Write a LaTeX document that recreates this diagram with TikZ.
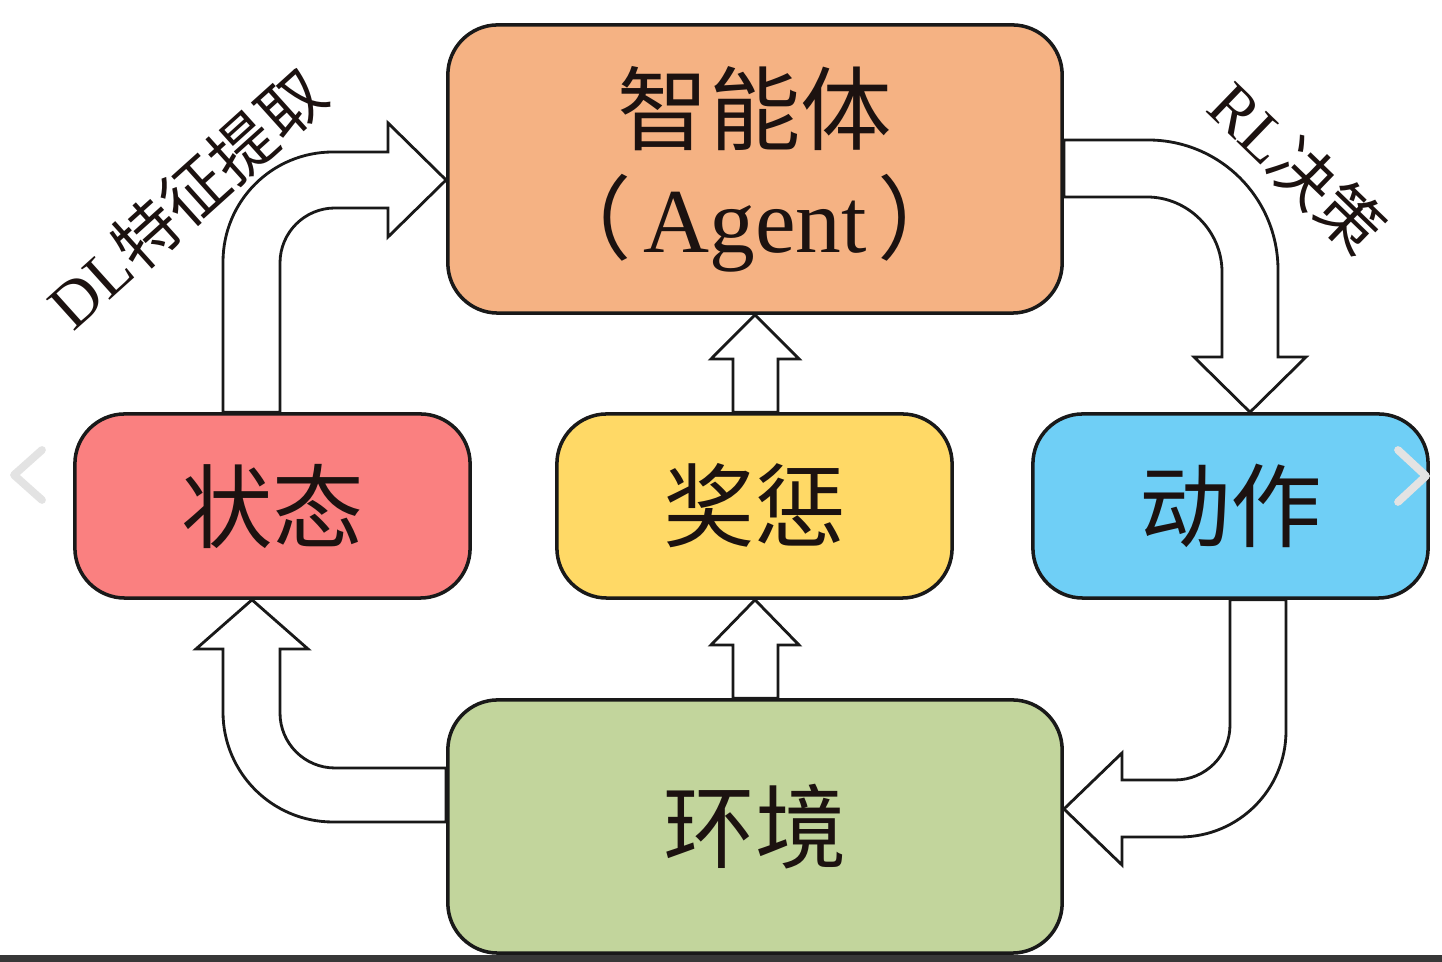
\documentclass[tikz,border=0pt]{standalone}
\usepackage{fontspec}
\setmainfont{Liberation Serif}
\newfontfamily\cjk{Noto Sans CJK SC}
\usetikzlibrary{calc}
\pgfdeclarelayer{backdrop}
\pgfdeclarelayer{bg}
\pgfsetlayers{backdrop,bg,main}
\definecolor{cAg}{HTML}{F5B283}
\definecolor{cSt}{HTML}{FA8080}
\definecolor{cJc}{HTML}{FFD966}
\definecolor{cDz}{HTML}{6FCFF6}
\definecolor{cHj}{HTML}{C2D59C}
\definecolor{txt}{HTML}{1C1210}
\begin{document}
\begin{tikzpicture}[x=0.01cm,y=-0.01cm,
  box/.style={draw=black!90, line width=1pt, rounded corners=0.5cm, inner sep=0pt,
    font=\cjk\fontsize{26}{31}\selectfont, text=txt, align=center},
  blk/.style={draw=black!90, fill=white, line width=0.8pt, line join=miter},
  side/.style={font=\fontsize{18.5}{20}\selectfont, text=txt, inner sep=0pt},
  chev/.style={draw=gray!22, line width=2.2pt, line cap=round, line join=round}]
\begin{pgfonlayer}{backdrop}
\fill[white] (0,0) rectangle (1442,962);
\end{pgfonlayer}
\useasboundingbox (0,0) rectangle (1442,962);

% boxes
\node[box, fill=cAg, minimum width=6.14cm, minimum height=2.88cm] (ag) at (755,169)
  {智能体\\（\hspace{0.12em}{\rmfamily Agent}\hspace{0.12em}）};
\node[box, fill=cSt, minimum width=3.95cm, minimum height=1.84cm] (st) at (272.5,506) {状态};
\node[box, fill=cJc, minimum width=3.95cm, minimum height=1.84cm] (jc) at (754.5,506) {奖惩};
\node[box, fill=cDz, minimum width=3.95cm, minimum height=1.84cm] (dz) at (1230.5,506) {动作};
\node[box, fill=cHj, minimum width=6.14cm, minimum height=2.53cm] (hj) at (755,826.5) {环境};

% side labels
\node[side, rotate=42] (dl) at (186,198) {DL{\cjk 特征提取}};
\node[side, rotate=-44] (rl) at (1298,167) {RL{\cjk 决策}};

\begin{pgfonlayer}{bg}
% DL: state -> agent
\draw[blk] (223,0 |- st.north) -- (223,262) .. controls (223,201) and (272,152) .. (333,152)
  -- (388,152) -- (388,123) -- (ag.west |- 0,180) -- (388,237) -- (388,208) -- (335,208)
  .. controls (304.6,208) and (280,232.6) .. (280,263) -- (280,0 |- st.north) -- cycle;
% RL: agent -> action
\draw[blk] (ag.east |- 0,140) -- (1148,140) .. controls (1220,140) and (1278,198) .. (1278,270)
  -- (1278,357) -- (1306,357) -- (1250,0 |- dz.north) -- (1194,357) -- (1222,357) -- (1222,272)
  .. controls (1222,231) and (1188,197) .. (1147,197) -- (ag.east |- 0,197) -- cycle;
% action -> environment
\draw[blk] (1230,0 |- dz.south) -- (1230,725) .. controls (1230,755.4) and (1205.4,780) .. (1175,780)
  -- (1122,780) -- (1122,753) -- (hj.east |- 0,809) -- (1122,865) -- (1122,837) -- (1180,837)
  .. controls (1238.5,837) and (1286,789.5) .. (1286,731) -- (1286,0 |- dz.south) -- cycle;
% environment -> state
\draw[blk] (hj.west |- 0,768) -- (335,768) .. controls (304.6,768) and (280,743.4) .. (280,713)
  -- (280,649) -- (308,649) -- (252,0 |- st.south) -- (196,649) -- (223,649) -- (223,712)
  .. controls (223,772.8) and (272.2,822) .. (333,822) -- (hj.west |- 0,822) -- cycle;
% reward -> agent
\draw[blk] (733,0 |- jc.north) -- (733,359) -- (711,359) -- (755,0 |- ag.south) -- (799,359)
  -- (778,359) -- (778,0 |- jc.north) -- cycle;
% environment -> reward
\draw[blk] (733,0 |- hj.north) -- (733,645) -- (711,645) -- (755,0 |- jc.south) -- (799,645)
  -- (778,645) -- (778,0 |- hj.north) -- cycle;
\end{pgfonlayer}

% screenshot overlays
\draw[chev] (42,450) -- (14,475) -- (42,500);
\draw[chev] (1398,450) -- (1426,476) -- (1398,502);
\fill[black!78] (0,955) rectangle (1442,962);
\end{tikzpicture}
\end{document}
